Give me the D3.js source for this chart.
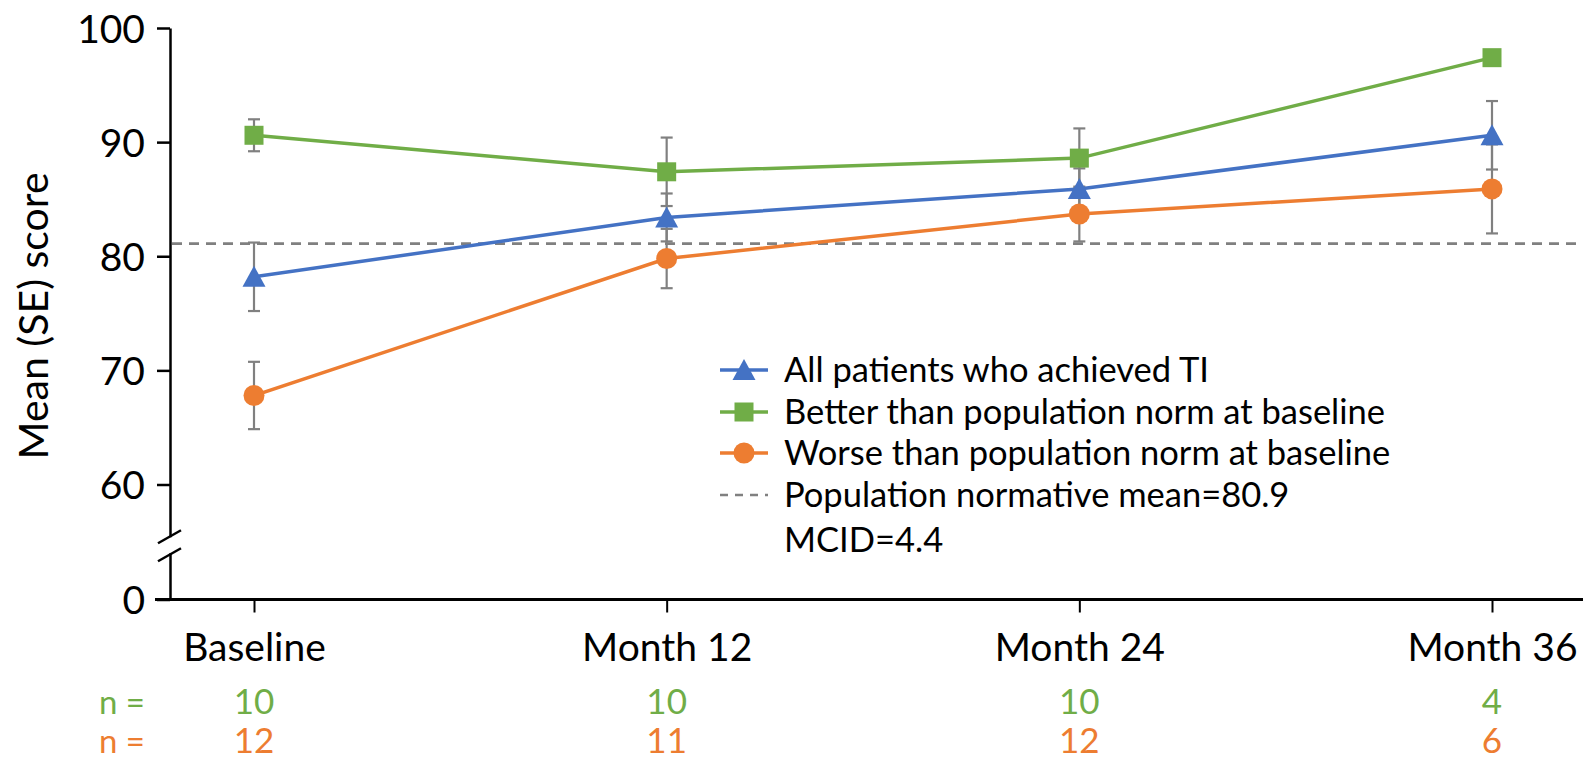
<!DOCTYPE html>
<html>
<head>
<meta charset="utf-8">
<script src="https://cdn.jsdelivr.net/npm/d3@7"></script>
<style>
  html, body { margin: 0; padding: 0; background: #fff; }
  svg { display: block; font-family: Lato, "Open Sans", sans-serif; }
</style>
</head>
<body>
<svg id="chart" width="1583" height="762"></svg>
<script>
// ---- data ----
const categories = ["Baseline", "Month 12", "Month 24", "Month 36"];
const allTIMean = [78.2, 83.4, 85.9, 90.6];
const allTISE = [3.0, 2.1, 1.8, 3.0];
const betterMean = [90.6, 87.4, 88.6, 97.4];
const betterSE = [1.4, 3.0, 2.6, 0];
const worseMean = [67.8, 79.8, 83.7, 85.9];
const worseSE = [2.95, 2.6, 2.4, 3.9];
const nBetter = [10, 10, 10, 4];
const nWorse = [12, 11, 12, 6];
const yTickValues = [0, 60, 70, 80, 90, 100];
const normMean = 81.1;
const legendLabels = [
  "All patients who achieved TI",
  "Better than population norm at baseline",
  "Worse than population norm at baseline",
  "Population normative mean=80.9",
  "MCID=4.4"
];

// ---- styles ----
const C = { blue: "#4472C4", green: "#70AD47", orange: "#ED7D31", gray: "#808080" };
const series = [
  { name: legendLabels[0], mean: allTIMean, se: allTISE, color: C.blue, shape: "triangle" },
  { name: legendLabels[1], mean: betterMean, se: betterSE, color: C.green, shape: "square" },
  { name: legendLabels[2], mean: worseMean, se: worseSE, color: C.orange, shape: "circle" }
];

const svg = d3.select("#chart");
const x = d3.scalePoint().domain(categories).range([254, 1492]);
const y = d3.scaleLinear().domain([0, 60, 100]).range([599.5, 484.5, 28]);
const axisX0 = 170;

// Y axis
const yAxis = svg.append("g").attr("transform", `translate(${axisX0},0)`)
  .call(d3.axisLeft(y).tickValues(yTickValues).tickSize(13).tickPadding(12).tickSizeOuter(0));
yAxis.select(".domain").attr("stroke", "#000").attr("stroke-width", 2.5);
yAxis.selectAll(".tick line").attr("stroke", "#000").attr("stroke-width", 2.5);
yAxis.selectAll(".tick text").attr("font-size", 39).attr("fill", "#000")
  .attr("font-family", "Lato, sans-serif").attr("dy", "0.36em");

// axis break
const brk = svg.append("g");
const brkY = y(33);
brk.append("rect").attr("x", axisX0 - 4).attr("y", brkY + 1).attr("width", 8).attr("height", 16).attr("fill", "#fff");
[0, 18].forEach(off => {
  brk.append("line")
    .attr("x1", 158).attr("y1", brkY + off + 7)
    .attr("x2", 181).attr("y2", brkY + off - 6)
    .attr("stroke", "#000").attr("stroke-width", 2.5);
});

// X axis
svg.append("line").attr("x1", 155).attr("x2", 1583).attr("y1", y(0)).attr("y2", y(0))
  .attr("stroke", "#000").attr("stroke-width", 3);
const xAxis = svg.append("g").attr("transform", `translate(0,${y(0)})`)
  .call(d3.axisBottom(x).tickSize(13).tickSizeOuter(0));
xAxis.select(".domain").remove();
xAxis.selectAll(".tick line").attr("stroke", "#000").attr("stroke-width", 2);
xAxis.selectAll(".tick text").attr("font-size", 39).attr("fill", "#000")
  .attr("font-family", "Lato, sans-serif").attr("dy", null).attr("y", 661 - y(0));

// y label
svg.append("text").attr("transform", `translate(48,316) rotate(-90)`)
  .attr("text-anchor", "middle").attr("font-size", 41).attr("fill", "#000")
  .text("Mean (SE) score");

// dashed normative line
svg.append("line").attr("x1", axisX0 + 2).attr("x2", 1583)
  .attr("y1", y(normMean)).attr("y2", y(normMean))
  .attr("stroke", C.gray).attr("stroke-width", 2.8).attr("stroke-dasharray", "10,7");

// symbol helper
function drawMarker(g, shape, cx, cy, color) {
  if (shape === "square") {
    g.append("rect").attr("x", cx - 9.5).attr("y", cy - 9.5).attr("width", 19).attr("height", 19).attr("fill", color);
  } else if (shape === "circle") {
    g.append("circle").attr("cx", cx).attr("cy", cy).attr("r", 10.5).attr("fill", color);
  } else {
    g.append("path").attr("d", `M${cx},${cy - 11}L${cx + 11.5},${cy + 10}L${cx - 11.5},${cy + 10}Z`).attr("fill", color);
  }
}

const plot = svg.append("g");
// error bars
series.forEach(s => {
  const eg = plot.append("g");
  categories.forEach((c, i) => {
    if (!s.se[i]) return;
    const cx = x(c), y1 = y(s.mean[i] + s.se[i]), y2 = y(s.mean[i] - s.se[i]);
    eg.append("line").attr("x1", cx).attr("x2", cx).attr("y1", y1).attr("y2", y2)
      .attr("stroke", C.gray).attr("stroke-width", 2.2);
    [y1, y2].forEach(yy => eg.append("line").attr("x1", cx - 6).attr("x2", cx + 6)
      .attr("y1", yy).attr("y2", yy).attr("stroke", C.gray).attr("stroke-width", 2.2));
  });
});
// lines
const line = d3.line().x((d, i) => x(categories[i])).y(d => y(d));
series.forEach(s => {
  plot.append("path").datum(s.mean).attr("d", line)
    .attr("fill", "none").attr("stroke", s.color).attr("stroke-width", 3.5);
});
// markers
series.forEach(s => {
  const mg = plot.append("g");
  s.mean.forEach((v, i) => drawMarker(mg, s.shape, x(categories[i]), y(v), s.color));
});

// legend
const lg = svg.append("g");
const rowY = [370, 412, 453, 495, 540];
series.forEach((s, i) => {
  lg.append("line").attr("x1", 720).attr("x2", 768).attr("y1", rowY[i]).attr("y2", rowY[i])
    .attr("stroke", s.color).attr("stroke-width", 3.5);
  drawMarker(lg, s.shape, 744, rowY[i], s.color);
});
lg.append("line").attr("x1", 720).attr("x2", 768).attr("y1", rowY[3]).attr("y2", rowY[3])
  .attr("stroke", C.gray).attr("stroke-width", 2.5).attr("stroke-dasharray", "8,7");
legendLabels.forEach((t, i) => {
  lg.append("text").attr("x", 784).attr("y", rowY[i] + 12).attr("font-size", 34.5).attr("fill", "#000").text(t);
});

// n rows
const nRows = [{ vals: nBetter, color: C.green, yb: 714 }, { vals: nWorse, color: C.orange, yb: 753 }];
nRows.forEach(r => {
  svg.append("text").attr("x", 99).attr("y", r.yb).attr("font-size", 33).attr("fill", r.color).text("n =");
  r.vals.forEach((v, i) => {
    svg.append("text").attr("x", x(categories[i])).attr("y", r.yb).attr("text-anchor", "middle")
      .attr("font-size", 35).attr("fill", r.color).text(v);
  });
});
</script>
</body>
</html>
